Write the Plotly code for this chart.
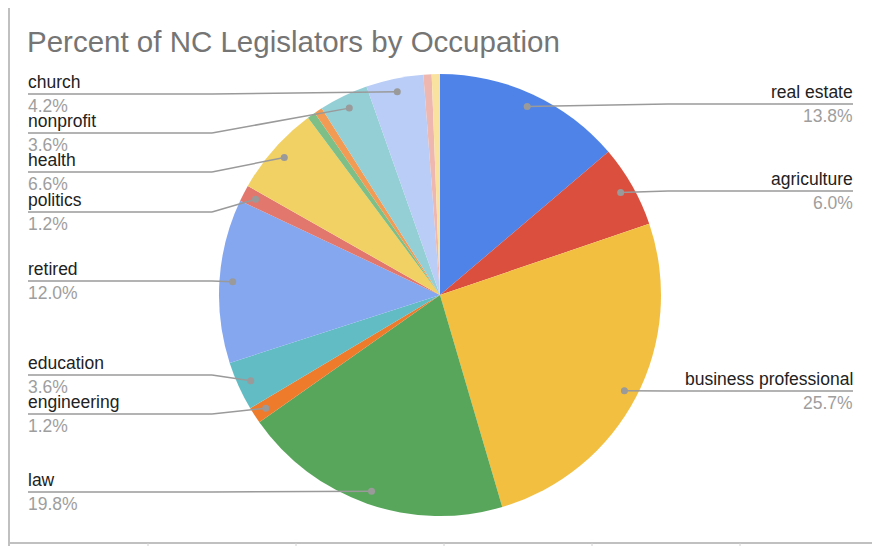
import math
import plotly.graph_objects as go

# slices clockwise from 12 o'clock
occupations = ['real estate', 'agriculture', 'business professional', 'law',
               'engineering', 'education', 'retired', 'politics', 'health',
               'other a', 'other b', 'nonprofit', 'church', 'other c', 'other d']
percents = [13.8, 6.0, 25.7, 19.8, 1.2, 3.6, 12.0, 1.2, 6.6,
            0.6, 0.6, 3.6, 4.2, 0.6, 0.6]
colors = ['#4f83e8', '#da4f3e', '#f2bf41', '#58a65c', '#ee7b2c', '#62bcc3',
          '#84a7ef', '#e2786d', '#f2d164', '#7dbf87', '#f29b55', '#94cfd6',
          '#b9cdf7', '#eeb8b1', '#f9e29f']

# label placement (pixels in the screenshot): side and y of the leader line
label_pos = {
    'real estate': ('right', 104),
    'agriculture': ('right', 191),
    'business professional': ('right', 391),
    'church': ('left', 94),
    'nonprofit': ('left', 133),
    'health': ('left', 172),
    'politics': ('left', 212),
    'retired': ('left', 281),
    'education': ('left', 375),
    'engineering': ('left', 414),
    'law': ('left', 492),
}

# page body has an 8px margin, so the figure starts at (8, 8)
OFF = 8
W, H = 880 - OFF, 546 - OFF
cx, cy, R = 440, 295, 221
left_x, left_knee = 28, 212
right_x, right_knee = 853, 668
line_col = '#9a9a9a'


def px(x):
    return (x - OFF) / W


def py(y):
    return 1 - (y - OFF) / H


fig = go.Figure()
fig.add_trace(go.Pie(
    labels=occupations,
    values=percents,
    marker=dict(colors=colors, line=dict(width=0)),
    sort=False,
    direction='clockwise',
    rotation=0,
    textinfo='none',
    hoverinfo='label+percent',
    showlegend=False,
    domain=dict(x=[px(cx - R), px(cx + R)], y=[py(cy + R), py(cy - R)]),
))

shapes = []
annotations = []
total = sum(percents)
cum = 0
for name, val in zip(occupations, percents):
    mid = (cum + val / 2) / total * 2 * math.pi
    cum += val
    if name not in label_pos:
        continue
    side, ly = label_pos[name]
    dx = cx + math.sin(mid) * R * 0.94
    dy = cy - math.cos(mid) * R * 0.94
    if side == 'left':
        knee, end, anchor = left_knee, left_x, 'left'
    else:
        knee, end, anchor = right_knee, right_x, 'right'
    shapes.append(dict(type='line', xref='paper', yref='paper',
                       x0=px(dx), y0=py(dy), x1=px(knee), y1=py(ly),
                       line=dict(color=line_col, width=1.5)))
    shapes.append(dict(type='line', xref='paper', yref='paper',
                       x0=px(knee), y0=py(ly), x1=px(end), y1=py(ly),
                       line=dict(color=line_col, width=1.5)))
    shapes.append(dict(type='circle', xref='paper', yref='paper',
                       x0=px(dx - 3.5), x1=px(dx + 3.5),
                       y0=py(dy + 3.5), y1=py(dy - 3.5),
                       fillcolor=line_col, line=dict(width=0)))
    tx = end + (1 if side == 'right' else -1)
    annotations.append(dict(text=name, x=px(tx), y=py(ly - 1),
                            xref='paper', yref='paper', showarrow=False,
                            xanchor=anchor, yanchor='bottom', borderpad=0,
                            font=dict(size=17.5, color='#222222')))
    annotations.append(dict(text=f'{val:.1f}%', x=px(tx), y=py(ly + 1),
                            xref='paper', yref='paper', showarrow=False,
                            xanchor=anchor, yanchor='top', borderpad=0,
                            font=dict(size=17.5, color='#9e9e9e')))

# sheet cell borders
shapes.append(dict(type='line', xref='paper', yref='paper', x0=px(9), x1=px(9),
                   y0=0, y1=1, line=dict(color='#c0c0c0', width=2)))
shapes.append(dict(type='line', xref='paper', yref='paper', x0=0, x1=1,
                   y0=py(543), y1=py(543), line=dict(color='#c0c0c0', width=2)))
for tick_x in [148, 296, 444, 592, 740]:
    shapes.append(dict(type='line', xref='paper', yref='paper', x0=px(tick_x), x1=px(tick_x),
                       y0=py(543), y1=0, line=dict(color='#d0d0d0', width=1)))

fig.update_layout(
    width=W, height=H,
    margin=dict(l=0, r=0, t=0, b=0),
    paper_bgcolor='white',
    font=dict(family='Liberation Sans, Arial, sans-serif'),
    title=dict(text='Percent of NC Legislators by Occupation',
               x=px(27), xanchor='left', y=py(42), yanchor='middle',
               font=dict(size=29.5, color='#757575')),
    shapes=shapes,
    annotations=annotations,
)

fig.write_html('out.html')
